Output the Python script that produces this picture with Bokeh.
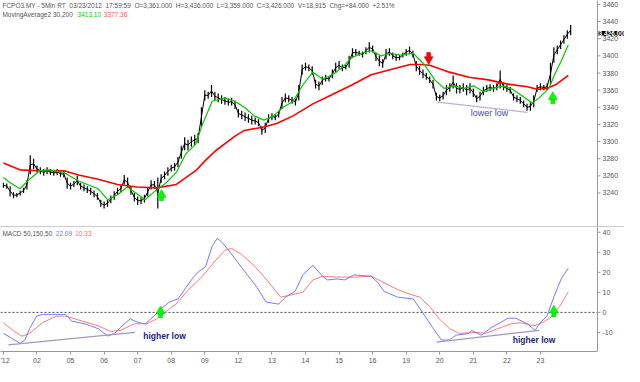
from bokeh.plotting import figure
from bokeh.layouts import column
from bokeh.models import Range1d, FixedTicker, Label, Span
from bokeh.core.properties import value
from bokeh.embed import file_html
from bokeh.resources import INLINE

# ---------------- data (x in trading-day units, 0 = first label) ----------------
day_ticks = [0, 1, 2, 3, 4, 5, 6, 7, 8, 9, 10, 11, 12, 13, 14, 15, 16]
day_labels = ["'12", "02", "05", "06", "07", "08", "09", "12", "13", "14", "15", "16",
              "19", "20", "21", "22", "23"]
price_ticks = [3240, 3260, 3280, 3300, 3320, 3340, 3360, 3380, 3400, 3420, 3440, 3460]
macd_ticks = [-10, 0, 10, 20, 30, 40]

bar_step = 0.1  # one drawn bar per 0.1 trading day
bar_high = [3252, 3251, 3248, 3241, 3240, 3243, 3246, 3255, 3284, 3280,
            3272, 3270, 3268, 3270, 3268, 3267, 3268, 3266, 3266, 3258,
            3252, 3254, 3260, 3252, 3250, 3248, 3246, 3243, 3240, 3232,
            3230, 3232, 3237, 3242, 3246, 3249, 3261, 3258, 3248, 3240,
            3236, 3235, 3238, 3247, 3255, 3254, 3258, 3262, 3265, 3270,
            3273, 3275, 3282, 3295, 3305, 3302, 3306, 3308, 3310, 3340,
            3360, 3358, 3366, 3358, 3356, 3354, 3352, 3350, 3351, 3348,
            3338, 3336, 3334, 3332, 3330, 3328, 3326, 3318, 3322, 3332,
            3333, 3332, 3336, 3352, 3356, 3354, 3352, 3350, 3366, 3390,
            3392, 3390, 3388, 3372, 3370, 3376, 3378, 3376, 3384, 3392,
            3394, 3390, 3390, 3400, 3409, 3408, 3406, 3405, 3410, 3416,
            3412, 3404, 3400, 3396, 3408, 3409, 3404, 3402, 3401, 3404,
            3408, 3411, 3406, 3394, 3388, 3384, 3380, 3376, 3372, 3357,
            3355, 3358, 3366, 3368, 3377, 3368, 3366, 3368, 3366, 3368,
            3362, 3354, 3358, 3364, 3366, 3367, 3366, 3368, 3383, 3368,
            3366, 3364, 3356, 3354, 3352, 3348, 3344, 3346, 3354, 3366,
            3368, 3366, 3368, 3392, 3410, 3412, 3418, 3424, 3430, 3436]
bar_low = [3246, 3245, 3236, 3234, 3235, 3237, 3240, 3244, 3262, 3268,
           3264, 3262, 3260, 3262, 3261, 3260, 3261, 3259, 3258, 3245,
           3244, 3247, 3249, 3244, 3242, 3240, 3238, 3235, 3232, 3224,
           3222, 3224, 3228, 3232, 3238, 3241, 3250, 3246, 3238, 3230,
           3226, 3227, 3229, 3236, 3244, 3245, 3222, 3252, 3256, 3260,
           3265, 3266, 3270, 3280, 3290, 3290, 3294, 3296, 3298, 3318,
           3348, 3350, 3352, 3348, 3346, 3344, 3343, 3342, 3342, 3338,
           3328, 3326, 3324, 3322, 3320, 3320, 3318, 3308, 3310, 3322,
           3325, 3325, 3328, 3338, 3346, 3346, 3344, 3342, 3348, 3378,
           3383, 3382, 3378, 3362, 3360, 3366, 3370, 3370, 3374, 3380,
           3384, 3382, 3384, 3386, 3398, 3400, 3400, 3398, 3402, 3404,
           3404, 3394, 3388, 3386, 3396, 3400, 3396, 3394, 3395, 3398,
           3400, 3402, 3398, 3382, 3378, 3374, 3372, 3368, 3362, 3348,
           3347, 3349, 3354, 3358, 3362, 3356, 3356, 3358, 3354, 3356,
           3352, 3346, 3348, 3354, 3358, 3359, 3358, 3360, 3362, 3360,
           3358, 3356, 3348, 3346, 3344, 3340, 3336, 3336, 3340, 3358,
           3360, 3360, 3360, 3366, 3392, 3402, 3408, 3414, 3420, 3424]
bar_time = [i * bar_step for i in range(len(bar_high))]

ma30_t = [0.0, 0.2, 0.49, 0.78, 1.08, 1.37, 1.8, 2.24, 2.82, 3.11, 3.4, 3.69, 3.98, 4.22,
          4.48, 4.85, 5.15, 5.44, 5.73, 5.93, 6.22, 6.6, 6.89, 7.18, 7.47, 7.76, 8.05,
          8.34, 8.63, 8.92, 9.22, 9.51, 9.8, 10.09, 10.38, 10.67, 10.96, 11.25, 11.54,
          11.83, 12.21, 12.56, 12.85, 13.14, 13.43, 13.72, 14.01, 14.3, 14.59, 14.88,
          15.17, 15.47, 15.76, 15.96, 16.25, 16.42, 16.63, 16.83]
ma30_v = [3258, 3252, 3245, 3256, 3266, 3267, 3264, 3254, 3245, 3232, 3238, 3247, 3239,
          3232, 3241, 3252, 3264, 3286, 3297, 3320, 3347, 3351, 3347, 3340, 3330, 3325,
          3330, 3340, 3347, 3366, 3381, 3373, 3378, 3386, 3398, 3403, 3406, 3400, 3403,
          3401, 3403, 3389, 3372, 3362, 3365, 3362, 3365, 3358, 3362, 3365, 3361, 3353,
          3345, 3351, 3362, 3378, 3395, 3413.1]

ma200_t = [0.0, 0.49, 1.08, 1.8, 2.24, 2.82, 3.4, 3.98, 4.56, 5.15, 5.73, 6.02, 6.31,
           6.89, 7.18, 7.76, 8.14, 8.63, 9.22, 9.8, 10.38, 10.96, 11.54, 12.12, 12.41,
           12.7, 13.29, 13.87, 14.45, 15.03, 15.61, 15.9, 16.19, 16.48, 16.83]
ma200_v = [3275, 3267, 3266, 3266, 3261, 3256, 3250, 3247, 3246, 3250, 3266, 3278, 3289,
           3306, 3313, 3317, 3321, 3330, 3344, 3355, 3366, 3378, 3384, 3390, 3390, 3389,
           3381, 3375, 3372, 3367, 3364, 3361, 3362, 3367, 3377.36]

macd_t = [0.0, 0.2, 0.49, 0.64, 0.78, 0.99, 1.16, 1.45, 1.86, 2.03, 2.44, 2.82, 3.11,
          3.31, 3.6, 3.78, 3.98, 4.22, 4.48, 4.71, 4.94, 5.2, 5.44, 5.64, 5.81, 6.02,
          6.22, 6.37, 6.51, 6.69, 6.98, 7.27, 7.56, 7.82, 8.2, 8.4, 8.69, 8.92, 9.22,
          9.51, 9.65, 9.94, 10.17, 10.44, 10.67, 10.96, 11.16, 11.34, 11.74, 12.21,
          12.5, 12.79, 13.05, 13.28, 13.49, 13.87, 13.95, 14.24, 14.53, 14.8, 15.03,
          15.26, 15.61, 15.84, 15.99, 16.19, 16.42, 16.63, 16.83]
macd_v = [-10.5, -12.4, -15.4, -13.8, -8.1, -1.9, -1, -1, -1, -4.3, -5.8, -8.1, -11.8,
          -10.5, -5.8, -3.2, -4.8, -5.8, -1.9, 2, 5.1, 6.7, 12.4, 17.1, 20.3, 22.7, 33,
          37, 35, 31.4, 25, 18.7, 12.4, 5.2, 4.1, 7.6, 10.5, 18.7, 23.5, 18, 16.2, 16.7,
          16.2, 18.7, 18.4, 18, 14.8, 10.5, 7.6, 6.7, -0.3, -7.6, -13.8, -13.8, -11.4,
          -10.5, -9, -11.4, -7.6, -5.2, -2.9, -2.9, -5.7, -9, -5.2, -1.9, 8.6, 17.1, 22.09]

signal_t = [0.0, 0.29, 0.55, 0.78, 1.16, 1.57, 1.86, 2.24, 2.82, 3.2, 3.49, 3.9, 4.27,
            4.56, 4.85, 5.15, 5.52, 5.93, 6.31, 6.6, 6.8, 7.09, 7.47, 7.85, 8.26, 8.55,
            8.92, 9.22, 9.51, 10.0, 10.47, 10.96, 11.34, 11.74, 12.12, 12.41, 12.7,
            12.99, 13.29, 13.58, 14.07, 14.36, 14.74, 15.12, 15.41, 15.81, 15.99, 16.28,
            16.57, 16.83]
signal_v = [-5.2, -9, -11.9, -10.5, -5.2, -1.9, -1.9, -3.8, -6.7, -9.5, -9, -5.7, -5.7,
            -3.3, 0.5, 4.3, 11.4, 18, 25.7, 31, 31.9, 29, 23.3, 16.2, 7.6, 8.6, 10, 16.2,
            18, 17.6, 17.6, 18.1, 14.8, 11.4, 9, 7.6, 2.9, -3.3, -8.1, -10.5, -10, -10.5,
            -8.1, -5.7, -5.2, -6.7, -5.7, -2.9, 2.9, 10.33]

# annotations
lower_low_t = [12.94, 15.61]
lower_low_p = [3346, 3334]
higher_low1_t = [0.145, 3.92]
higher_low1_v = [-16.2, -10.0]
higher_low2_t = [12.9, 15.96]
higher_low2_v = [-14.8, -9.0]
buy_t = [4.71, 16.37]
buy_head_p = [3238, 3352]
buy_stem_p = [3234, 3347]
sell_t = [12.67]
sell_head_p = [3396]
sell_stem_p = [3401]
macd_buy_t = [4.68, 16.4]
macd_buy_head = [0.6, 1.0]
macd_buy_stem = [-1.4, -1.0]
last_close = 3426

FONT = "Liberation Sans"
GRAY = "#555555"
AXIS = "#999999"

W = 624
X0, X_AXIS = -0.087, 17.70          # left edge and value-axis position (days)
PX_PER_DAY = 597 / (X_AXIS - X0)    # the value axis sits 597 px from the left
x_range = Range1d(X0, X0 + W / PX_PER_DAY)   # both frames span the full width
tick_len = 3 / PX_PER_DAY


def value_axis(p, ticks):
    """Right-hand value axis drawn inside the full-width frame."""
    p.add_layout(Span(location=X_AXIS, dimension="height", line_color=AXIS,
                      line_width=1))
    p.segment(x0=[X_AXIS] * len(ticks), y0=ticks, x1=[X_AXIS + tick_len] * len(ticks),
              y1=ticks, line_color=AXIS, line_width=1)
    p.text(x=[X_AXIS] * len(ticks), y=ticks, text=[str(t) for t in ticks], x_offset=5,
           text_baseline="middle", text_font=value(FONT), text_font_size="7px",
           text_color=GRAY)


# ---------------- price panel ----------------
p1 = figure(width=W, height=226, x_range=x_range, y_range=Range1d(3200.9, 3464.6),
            output_backend="svg", toolbar_location=None, x_axis_location=None,
            y_axis_location=None, min_border_left=0, min_border_right=0,
            min_border_top=0, min_border_bottom=0, outline_line_color=None)
p1.grid.visible = False

p1.segment(x0=bar_time, y0=bar_low, x1=bar_time, y1=bar_high, line_color="black",
           line_width=1.2)
mid = [(h + l) / 2 for h, l in zip(bar_high, bar_low)]
p1.line(bar_time, mid, line_color="black", line_width=1)
p1.line(ma200_t, ma200_v, line_color="#ff0000", line_width=1.6)
p1.line(ma30_t, ma30_v, line_color="#00c800", line_width=1.2)
p1.line(lower_low_t, lower_low_p, line_color="#c4acd8", line_width=1.2)

p1.rect(buy_t, buy_stem_p, width=4, height=5, width_units="screen", height_units="screen",
        fill_color="#00ff00", line_color="#00c000", line_width=0.5)
p1.scatter(buy_t, buy_head_p, marker="triangle", size=9, fill_color="#00ff00",
           line_color="#00c000", line_width=0.5)
p1.rect(sell_t, sell_stem_p, width=4, height=5, width_units="screen", height_units="screen",
        fill_color="#ff0000", line_color="#cc0000", line_width=0.5)
p1.scatter(sell_t, sell_head_p, marker="inverted_triangle", size=9, fill_color="#ff0000",
           line_color="#cc0000", line_width=0.5)

value_axis(p1, price_ticks)
p1.add_layout(Label(x=X_AXIS, y=last_close, x_offset=1, text="3,426.00",
                    text_baseline="middle", text_font=FONT, text_font_size="6.5px",
                    text_font_style="bold", text_color="white",
                    background_fill_color="black"))

p1.add_layout(Label(x=14.48, y=3333, text="lower low", text_align="center",
                    text_baseline="middle", text_font=FONT, text_font_size="9px",
                    text_color="#4a4aa8"))

sep = "\u00a0\u00a0"
header = sep.join(["FCPO3.MY - 5Min RT", "03/23/2012", "17:59:59", "O=3,361.000",
                   "H=3,436.000", "L=3,359.000", "C=3,426.000", "V=18,915",
                   "Chg=+84.000", "+2.51%"])
p1.add_layout(Label(x=-0.03, y=3458.5, text=header, text_baseline="middle",
                    text_font=FONT, text_font_size="6.5px", text_color=GRAY))
p1.add_layout(Label(x=-0.03, y=3448.5, text="MovingAverage2 30,200", text_baseline="middle",
                    text_font=FONT, text_font_size="6.5px", text_color=GRAY))
p1.add_layout(Label(x=2.21, y=3448.5, text="3413.10", text_baseline="middle",
                    text_font=FONT, text_font_size="6.5px", text_color="#00cc00"))
p1.add_layout(Label(x=2.99, y=3448.5, text="3377.36", text_baseline="middle",
                    text_font=FONT, text_font_size="6.5px", text_color="#ff5050"))

# ---------------- MACD panel ----------------
p2 = figure(width=W, height=140, x_range=x_range, y_range=Range1d(-19.52, 42.86),
            output_backend="svg", toolbar_location=None, y_axis_location=None,
            min_border_left=0, min_border_right=0, min_border_top=0,
            min_border_bottom=14, outline_line_color=None)
p2.grid.visible = False
p2.add_layout(Span(location=42.86, dimension="width", line_color=AXIS, line_width=1))
p2.line([X0, X_AXIS], [0, 0], line_color="#444444", line_width=1, line_dash="2 2")
value_axis(p2, macd_ticks)
p2.line(signal_t, signal_v, line_color="#ff7878", line_width=1)
p2.line(macd_t, macd_v, line_color="#7878ff", line_width=1)
p2.line(higher_low1_t, higher_low1_v, line_color="#a894c0", line_width=1.2)
p2.line(higher_low2_t, higher_low2_v, line_color="#a894c0", line_width=1.2)
p2.rect(macd_buy_t, macd_buy_stem, width=4, height=5, width_units="screen",
        height_units="screen", fill_color="#00ff00", line_color="#00c000", line_width=0.5)
p2.scatter(macd_buy_t, macd_buy_head, marker="triangle", size=9, fill_color="#00ff00",
           line_color="#00c000", line_width=0.5)
for lx, ly in [(4.8, -11.7), (15.81, -13.6)]:
    p2.add_layout(Label(x=lx, y=ly, text="higher low", text_align="center",
                        text_baseline="middle", text_font=FONT, text_font_size="8.5px",
                        text_font_style="bold", text_color="#1c1c80"))
p2.add_layout(Label(x=-0.03, y=39.5, text="MACD 50,150,50", text_baseline="middle",
                    text_font=FONT, text_font_size="6.5px", text_color=GRAY))
p2.add_layout(Label(x=1.56, y=39.5, text="22.09", text_baseline="middle",
                    text_font=FONT, text_font_size="6.5px", text_color="#6f6fff"))
p2.add_layout(Label(x=2.14, y=39.5, text="10.33", text_baseline="middle",
                    text_font=FONT, text_font_size="6.5px", text_color="#ff6a6a"))

xa = p2.xaxis[0]
xa.ticker = FixedTicker(ticks=day_ticks)
xa.major_label_overrides = {t: l for t, l in zip(day_ticks, day_labels)}
xa.bounds = (X0, X_AXIS)
xa.axis_line_color = AXIS
xa.major_tick_line_color = AXIS
xa.minor_tick_line_color = None
xa.major_tick_in = 0
xa.major_tick_out = 3
xa.major_label_standoff = 2
xa.major_label_text_font = FONT
xa.major_label_text_font_size = "7px"
xa.major_label_text_color = GRAY

layout = column(p1, p2, spacing=0)
open("out.html", "w").write(file_html(layout, INLINE))
